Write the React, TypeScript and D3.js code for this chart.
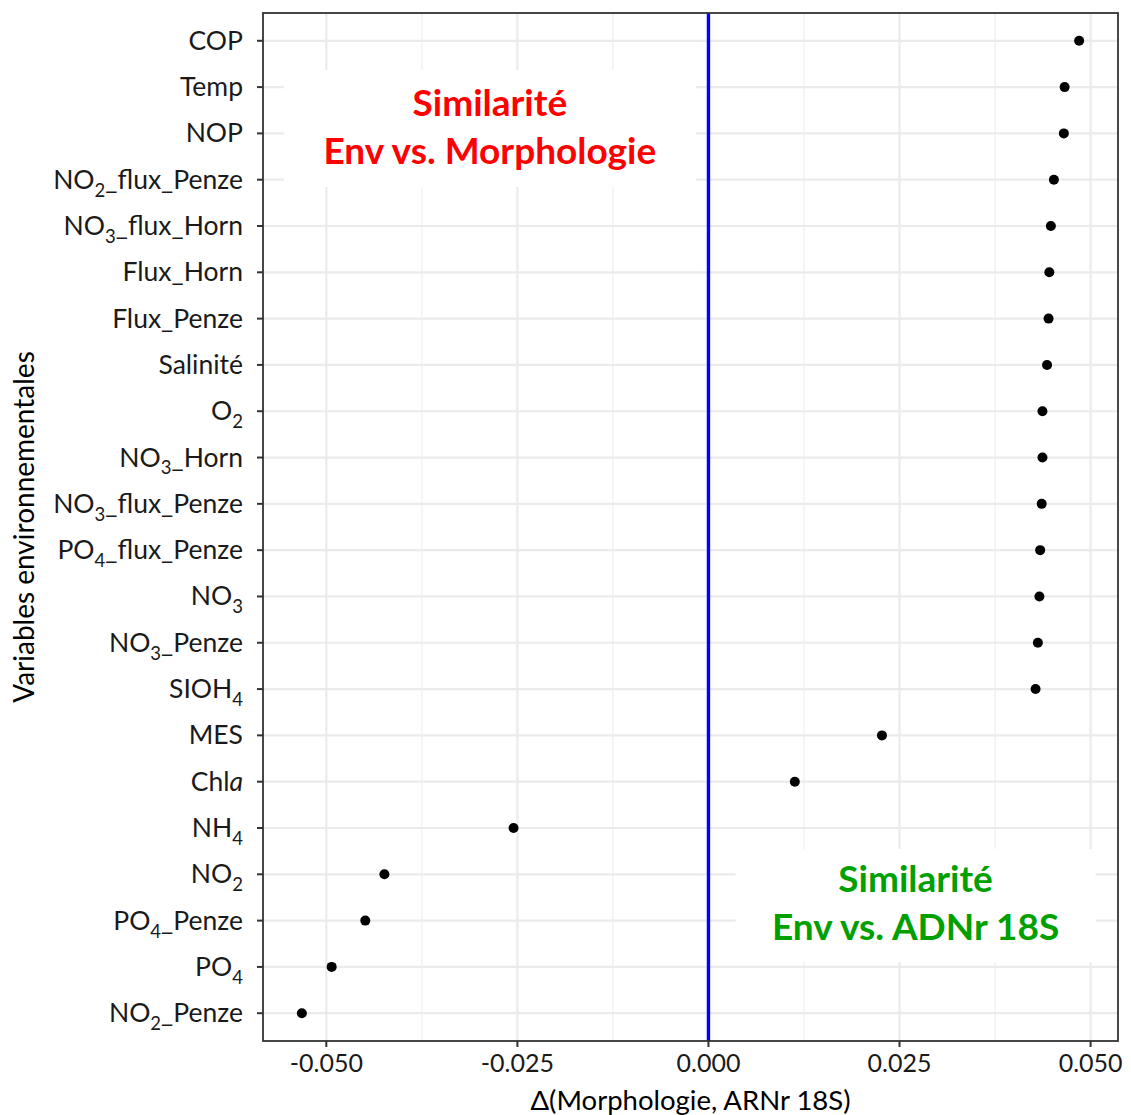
import React from "react";
import * as d3 from "d3";

// Categories (top to bottom), with markup: _{x} = subscript, *x* = italic
const categories: string[] = [
  "COP",
  "Temp",
  "NOP",
  "NO_{2}_flux_Penze",
  "NO_{3}_flux_Horn",
  "Flux_Horn",
  "Flux_Penze",
  "Salinité",
  "O_{2}",
  "NO_{3}_Horn",
  "NO_{3}_flux_Penze",
  "PO_{4}_flux_Penze",
  "NO_{3}",
  "NO_{3}_Penze",
  "SIOH_{4}",
  "MES",
  "Chl*a*",
  "NH_{4}",
  "NO_{2}",
  "PO_{4}_Penze",
  "PO_{4}",
  "NO_{2}_Penze",
];

const deltaValues: number[] = [
  0.0485, 0.0466, 0.0465, 0.0452, 0.0448, 0.0446, 0.0445, 0.0443, 0.0437,
  0.0437, 0.0436, 0.0434, 0.0433, 0.0431, 0.0428, 0.0227, 0.0113, -0.0255,
  -0.0424, -0.0449, -0.0493, -0.0532,
];

const xTicks: number[] = [-0.05, -0.025, 0, 0.025, 0.05];
const xMinorTicks: number[] = [-0.0375, -0.0125, 0.0125, 0.0375];
const xTickLabels: string[] = ["-0.050", "-0.025", "0.000", "0.025", "0.050"];

const xTitle = "Δ(Morphologie, ARNr 18S)";
const yTitle = "Variables environnementales";
const annoMorpho: string[] = ["Similarité", "Env vs. Morphologie"];
const annoAdn: string[] = ["Similarité", "Env vs. ADNr 18S"];

const W = 1131;
const H = 1115;
const panel = { left: 263, right: 1118, top: 13, bottom: 1041 };
const FONT = "Lato, 'Open Sans', sans-serif";

type Seg = { text: string; sub?: boolean; italic?: boolean };
function parseLabel(s: string): Seg[] {
  const segs: Seg[] = [];
  const re = /_\{([^}]*)\}|\*([^*]*)\*|([^_*]+|_)/g;
  let m: RegExpExecArray | null;
  while ((m = re.exec(s)) !== null) {
    if (m[1] !== undefined) segs.push({ text: m[1], sub: true });
    else if (m[2] !== undefined) segs.push({ text: m[2], italic: true });
    else segs.push({ text: m[3] });
  }
  return segs;
}

function Label({ segs, size }: { segs: Seg[]; size: number }) {
  const out: React.ReactNode[] = [];
  let inSub = false;
  segs.forEach((sg, i) => {
    if (sg.sub) {
      out.push(
        <tspan key={i} dy={size * 0.3} fontSize={size * 0.7}>
          {sg.text}
        </tspan>
      );
      inSub = true;
    } else {
      out.push(
        <tspan
          key={i}
          dy={inSub ? -size * 0.3 : 0}
          fontStyle={sg.italic ? "italic" : "normal"}
        >
          {sg.text}
        </tspan>
      );
      inSub = false;
    }
  });
  return <>{out}</>;
}

export default function App() {
  const ext = d3.extent(deltaValues) as [number, number];
  const pad = (ext[1] - ext[0]) * 0.05;
  const x = d3
    .scaleLinear()
    .domain([ext[0] - pad, ext[1] + pad])
    .range([panel.left, panel.right]);
  const y = d3
    .scalePoint<string>()
    .domain(categories)
    .range([panel.top, panel.bottom])
    .padding(0.6);

  const yMid = (a: string, b: string) => ((y(a) as number) + (y(b) as number)) / 2;

  const mMid = yMid("Temp", "NO_{2}_flux_Penze");
  const aMid = yMid("NO_{2}", "PO_{4}_Penze");
  const morphoBox = { cx: x(-0.0286), cy: mMid - 5, w: 412, h: 117, ty: mMid - 7 };
  const adnBox = { cx: x(0.0271), cy: aMid + 8, w: 360, h: 113, ty: aMid + 5.5 };

  const annoSize = 37;
  const lineGap = 48;
  const ySize = 26.5;

  return (
    <svg
      width={W}
      height={H}
      style={{ position: "absolute", left: 0, top: 0, background: "#fff" }}
      fontFamily={FONT}
    >
      <rect x={0} y={0} width={W} height={H} fill="#fff" />
      {/* minor grid */}
      {xMinorTicks.map((t) => (
        <line
          key={"mn" + t}
          x1={x(t)}
          x2={x(t)}
          y1={panel.top}
          y2={panel.bottom}
          stroke="#f0f0f0"
          strokeWidth={1.3}
        />
      ))}
      {/* major grid */}
      {xTicks.map((t) => (
        <line
          key={"mj" + t}
          x1={x(t)}
          x2={x(t)}
          y1={panel.top}
          y2={panel.bottom}
          stroke="#ebebeb"
          strokeWidth={2.2}
        />
      ))}
      {categories.map((c) => (
        <line
          key={"hg" + c}
          x1={panel.left}
          x2={panel.right}
          y1={y(c)}
          y2={y(c)}
          stroke="#ebebeb"
          strokeWidth={2.2}
        />
      ))}
      {/* annotation boxes */}
      <rect
        x={morphoBox.cx - morphoBox.w / 2}
        y={morphoBox.cy - morphoBox.h / 2}
        width={morphoBox.w}
        height={morphoBox.h}
        fill="#fff"
      />
      <rect
        x={adnBox.cx - adnBox.w / 2}
        y={adnBox.cy - adnBox.h / 2}
        width={adnBox.w}
        height={adnBox.h}
        fill="#fff"
      />
      {annoMorpho.map((t, i) => (
        <text
          key={"am" + i}
          x={morphoBox.cx}
          y={morphoBox.ty - lineGap / 2 + i * lineGap + annoSize * 0.36}
          textAnchor="middle"
          fontWeight="bold"
          fontSize={annoSize}
          fill="#ff0000"
        >
          {t}
        </text>
      ))}
      {annoAdn.map((t, i) => (
        <text
          key={"aa" + i}
          x={adnBox.cx}
          y={adnBox.ty - lineGap / 2 + i * lineGap + annoSize * 0.36}
          textAnchor="middle"
          fontWeight="bold"
          fontSize={annoSize}
          fill="#00a000"
        >
          {t}
        </text>
      ))}
      {/* zero line */}
      <line
        x1={x(0)}
        x2={x(0)}
        y1={panel.top}
        y2={panel.bottom}
        stroke="#0000ff"
        strokeWidth={3.4}
      />
      {/* points */}
      {categories.map((c, i) => (
        <circle key={"p" + c} cx={x(deltaValues[i])} cy={y(c)} r={5} fill="#000" />
      ))}
      {/* panel border */}
      <rect
        x={panel.left}
        y={panel.top}
        width={panel.right - panel.left}
        height={panel.bottom - panel.top}
        fill="none"
        stroke="#333"
        strokeWidth={1.8}
      />
      {/* y axis ticks & labels */}
      {categories.map((c) => (
        <g key={"yt" + c}>
          <line
            x1={panel.left - 6}
            x2={panel.left}
            y1={y(c)}
            y2={y(c)}
            stroke="#333"
            strokeWidth={2}
          />
          <text
            x={panel.left - 20}
            y={(y(c) as number) + 9}
            textAnchor="end"
            fontSize={ySize}
            fill="#1a1a1a"
          >
            <Label segs={parseLabel(c)} size={ySize} />
          </text>
        </g>
      ))}
      {/* x axis ticks & labels */}
      {xTicks.map((t, i) => (
        <g key={"xt" + t}>
          <line
            x1={x(t)}
            x2={x(t)}
            y1={panel.bottom}
            y2={panel.bottom + 6}
            stroke="#333"
            strokeWidth={2}
          />
          <text
            x={x(t)}
            y={panel.bottom + 31}
            textAnchor="middle"
            fontSize={25}
            fill="#1a1a1a"
          >
            {xTickLabels[i]}
          </text>
        </g>
      ))}
      {/* axis titles */}
      <text
        x={(panel.left + panel.right) / 2}
        y={1110}
        textAnchor="middle"
        fontSize={27.5}
        fill="#000"
      >
        {xTitle}
      </text>
      <text
        transform={`translate(34, ${(panel.top + panel.bottom) / 2}) rotate(-90)`}
        textAnchor="middle"
        fontSize={28}
        fill="#000"
      >
        {yTitle}
      </text>
    </svg>
  );
}
